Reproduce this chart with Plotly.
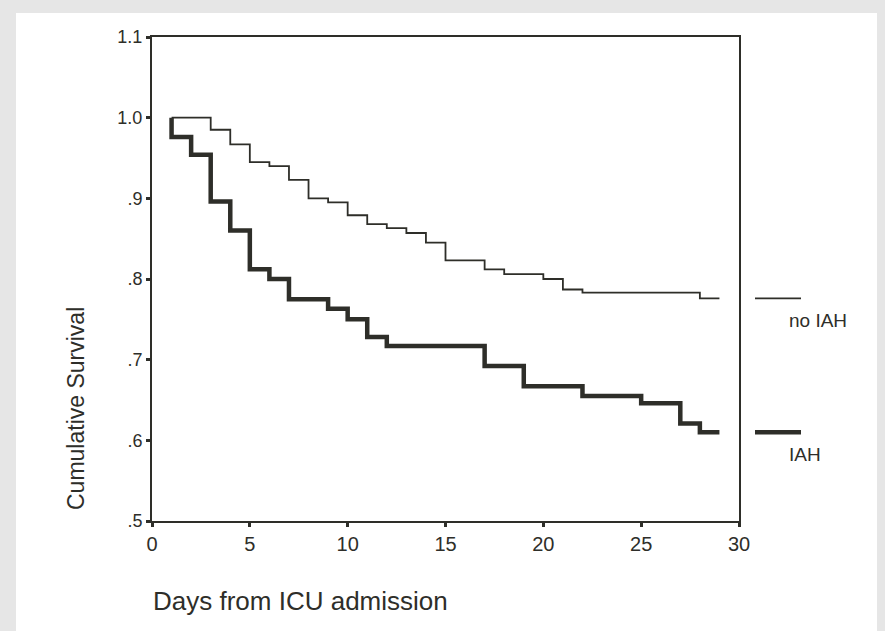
import plotly.graph_objects as go

# ---- data ----
no_iah_days = [1, 3, 4, 5, 6, 7, 8, 9, 10, 11, 12, 13, 14, 15, 17, 18, 20, 21, 22, 28, 29]
no_iah_surv = [1.0, 0.985, 0.967, 0.945, 0.940, 0.923, 0.900, 0.895, 0.879, 0.868, 0.863,
               0.857, 0.845, 0.823, 0.812, 0.806, 0.800, 0.787, 0.783, 0.776, 0.776]

iah_days = [1, 1, 2, 3, 4, 5, 6, 7, 9, 10, 11, 12, 17, 19, 22, 25, 27, 28, 29]
iah_surv = [1.0, 0.976, 0.954, 0.896, 0.860, 0.812, 0.800, 0.775, 0.763, 0.750, 0.728,
            0.717, 0.692, 0.667, 0.655, 0.646, 0.621, 0.610, 0.610]

x_ticks = [0, 5, 10, 15, 20, 25, 30]
y_ticks = [0.5, 0.6, 0.7, 0.8, 0.9, 1.0, 1.1]
y_tick_labels = [".5", ".6", ".7", ".8", ".9", "1.0", "1.1"]

series_names = ["no IAH", "IAH"]

Y_MIN, Y_MAX = 0.5, 1.1
INK = "#2e2e29"
FONT = "Liberation Sans, Arial, sans-serif"
THIN, THICK = 1.8, 4.5

fig = go.Figure()
fig.add_trace(go.Scatter(x=no_iah_days, y=no_iah_surv, mode="lines", line_shape="hv",
                         line=dict(color=INK, width=THIN), name=series_names[0],
                         showlegend=False))
fig.add_trace(go.Scatter(x=iah_days, y=iah_surv, mode="lines", line_shape="hv",
                         line=dict(color=INK, width=THICK), name=series_names[1],
                         showlegend=False))


def to_paper(v):
    return (v - Y_MIN) / (Y_MAX - Y_MIN)


W, H = 885, 631
L, R, T, B = 152, 146, 37, 110
pw, ph = W - L - R, H - T - B


def px_x(px):
    return (px - L) / pw


def px_y(py):
    return (H - B - py) / ph


shapes = [
    dict(type="rect", xref="paper", yref="paper", x0=px_x(16), x1=px_x(877),
         y0=px_y(H + 5), y1=px_y(13), fillcolor="white", line=dict(width=0), layer="below"),
]

legend_info = [(series_names[0], no_iah_surv[-1], THIN),
               (series_names[1], iah_surv[-1], THICK)]
annotations = []
for name, val, w in legend_info:
    yp = to_paper(val)
    shapes.append(dict(type="line", xref="paper", yref="paper", x0=px_x(755), x1=px_x(801),
                       y0=yp, y1=yp, line=dict(color=INK, width=w)))
    annotations.append(dict(xref="paper", yref="paper", x=px_x(787), y=yp,
                            xanchor="left", yanchor="middle", yshift=-22, showarrow=False,
                            text=name, font=dict(family=FONT, size=19, color=INK)))

annotations.append(dict(xref="paper", yref="paper", x=px_x(151), y=px_y(601),
                        xanchor="left", yanchor="middle", showarrow=False,
                        text="Days from ICU admission",
                        font=dict(family=FONT, size=26, color=INK)))
annotations.append(dict(xref="paper", yref="paper", x=px_x(76), y=px_y(409),
                        xanchor="center", yanchor="middle", showarrow=False, textangle=-90,
                        text="Cumulative Survival",
                        font=dict(family=FONT, size=23, color=INK)))

fig.update_layout(
    width=W, height=H,
    margin=dict(l=L, r=R, t=T, b=B),
    paper_bgcolor="#e6e6e6",
    plot_bgcolor="white",
    shapes=shapes,
    annotations=annotations,
    xaxis=dict(range=[0, 30], tickvals=x_ticks, ticktext=[str(t) for t in x_ticks],
               showgrid=False, zeroline=False, showline=True, linecolor=INK, linewidth=2,
               mirror=True, ticks="outside", ticklen=4, tickwidth=3, tickcolor=INK,
               tickfont=dict(family=FONT, size=20, color=INK)),
    yaxis=dict(range=[Y_MIN, Y_MAX], tickvals=y_ticks, ticktext=y_tick_labels,
               showgrid=False, zeroline=False, showline=True, linecolor=INK, linewidth=2,
               mirror=True, ticks="outside", ticklen=4, tickwidth=3, tickcolor=INK,
               tickfont=dict(family=FONT, size=18, color=INK)),
    showlegend=False,
)

fig.write_html("out.html", config={"displayModeBar": False},
               post_script="document.body.style.margin='0';")
